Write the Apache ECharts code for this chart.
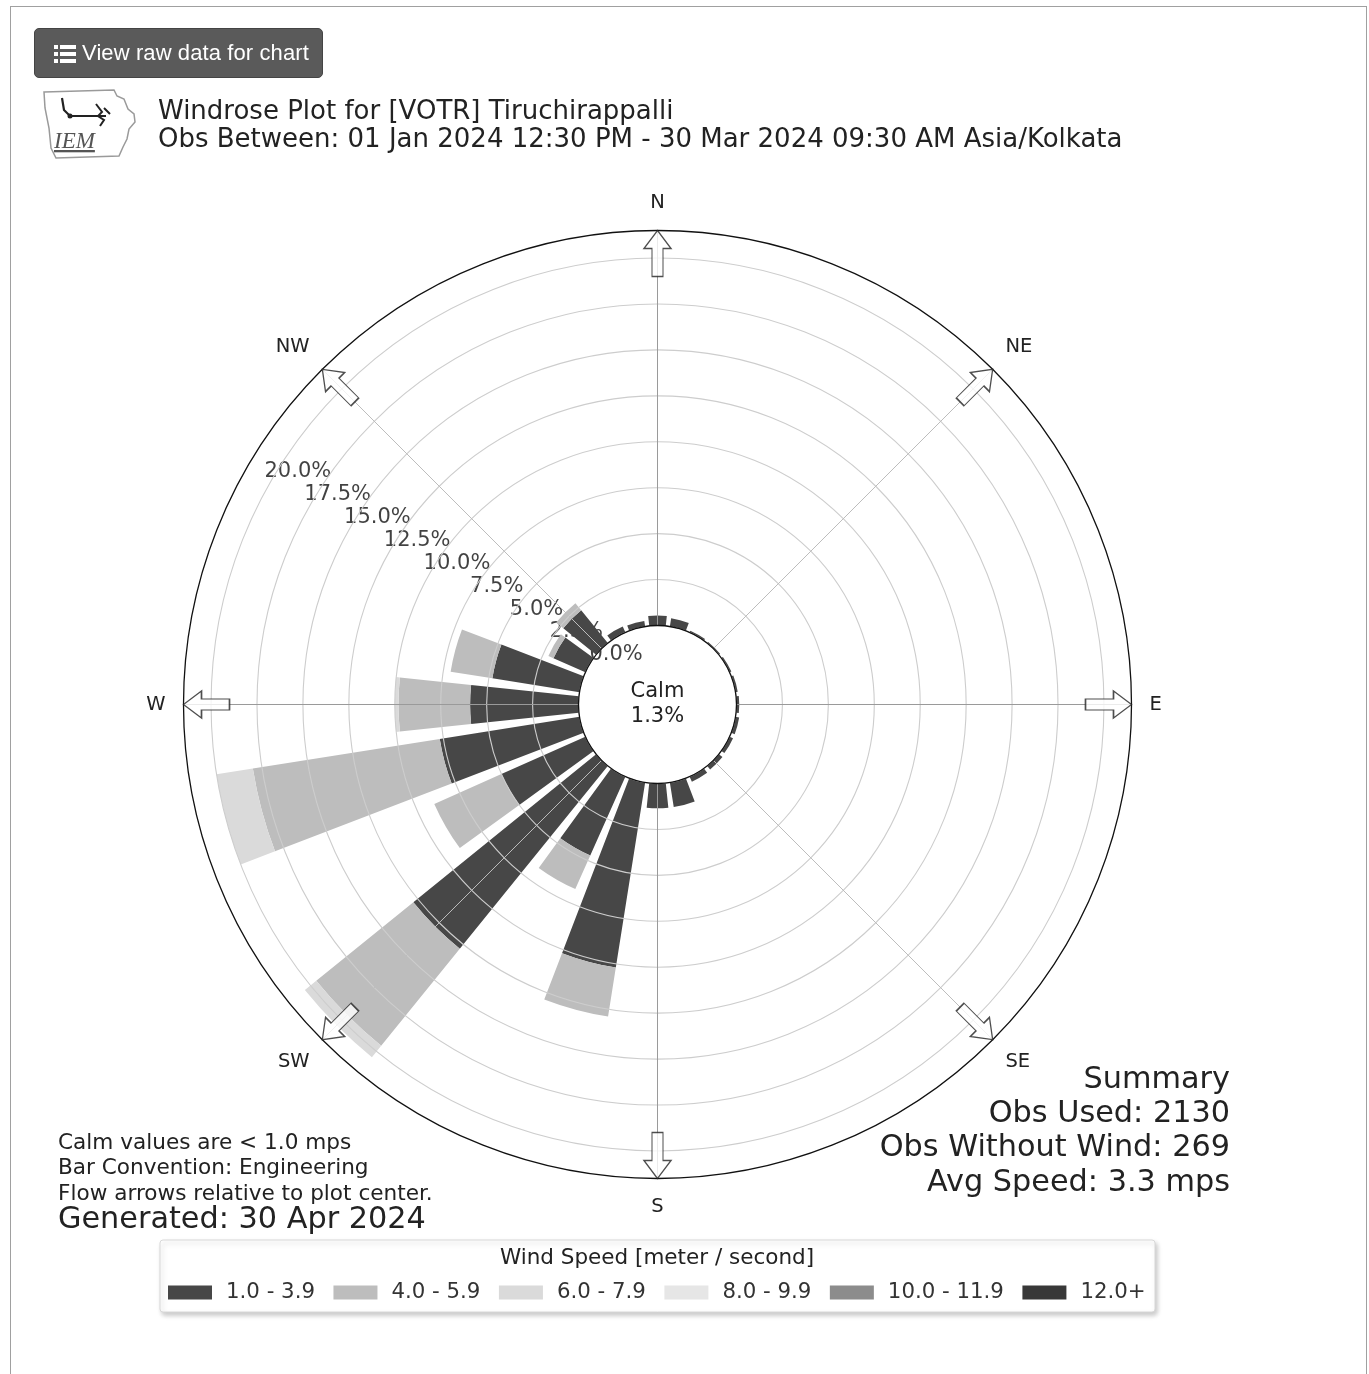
<!DOCTYPE html>
<html><head><meta charset="utf-8">
<script src="https://cdn.jsdelivr.net/npm/echarts@6/dist/echarts.min.js"></script>
<style>
html,body{margin:0;padding:0;background:#fff;overflow:hidden;width:1369px;height:1374px;}
#frame{position:absolute;left:10px;top:6px;width:1355px;height:1400px;border:1px solid #a0a0a0;border-bottom:none;}
#chart{position:absolute;left:0;top:0;width:1369px;height:1374px;}
#btn{position:absolute;left:34px;top:28px;width:289px;height:50px;background:#5a5a5a;border:1px solid #444;border-radius:5px;box-sizing:border-box;color:#fff;font-family:"Liberation Sans",Arial,sans-serif;font-size:22px;line-height:48px;}
#btn .txt{position:absolute;left:47px;top:0;letter-spacing:0.1px;}
#btn .ic{position:absolute;left:19px;width:22px;height:4px;}
#btn .ic i{position:absolute;left:0;top:0;width:4px;height:4px;background:#fff;}
#btn .ic b{position:absolute;left:6px;top:0;width:16px;height:4px;background:#fff;}
#logo{position:absolute;left:40px;top:86px;}
</style></head>
<body>
<div id="frame"></div>
<div id="chart"></div>
<div id="btn"><span class="ic" style="top:16px"><i></i><b></b></span><span class="ic" style="top:23px"><i></i><b></b></span><span class="ic" style="top:30px"><i></i><b></b></span><span class="txt">View raw data for chart</span></div>
<svg id="logo" width="100" height="76" viewBox="0 0 100 76">
  <path d="M4,6 L74,4 L77,10 L84,13 L88,23 L94,28 L95,36 L89,43 L87,53 L83,61 L79,70 L16,72 L11,62 L9,42 L5,22 Z" fill="#fff" stroke="#9a9a9a" stroke-width="1.5"/>
  <path d="M22,12 L24,24 L30,30 L58,30" fill="none" stroke="#222" stroke-width="2.2"/>
  <path d="M56,18 L62,26 L58,30 L64,34 L60,40 M64,22 L70,28 M58,30 L66,30" fill="none" stroke="#222" stroke-width="2"/>
  <circle cx="30" cy="30" r="2.5" fill="#222"/>
  <text x="14" y="62" font-family="Liberation Serif,serif" font-style="italic" font-size="23" fill="#555" text-decoration="underline">IEM</text>
</svg>
<script>
// ---- data ----
const directions = ['0','15','30','45','60','75','90','105','120','135','150','165','180','195','210','225','240','255','270','285','300','315','330','345'];
const speedBins = ['1.0 - 3.9','4.0 - 5.9','6.0 - 7.9','8.0 - 9.9','10.0 - 11.9','12.0+'];
const s1 = [0.55,0.45,0.10,0.08,0.10,0.12,0.15,0.20,0.20,0.25,0.30,1.35,1.35,10.2,4.7,12.8,5.0,7.7,5.9,4.8,1.9,2.3,0.35,0.30];
const s2 = [0,0,0,0,0,0,0,0,0,0,0,0,0,2.7,2.0,6.8,4.0,10.3,3.9,2.3,0.3,0.5,0,0];
const s3 = [0,0,0,0,0,0,0,0,0,0,0,0,0,0,0,0.8,0,2.0,0.2,0,0,0,0,0];
const s4 = [0,0,0,0,0,0,0,0,0,0,0,0,0,0,0,0,0,0,0,0,0,0,0,0];
const s5 = [0,0,0,0,0,0,0,0,0,0,0,0,0,0,0,0,0,0,0,0,0,0,0,0];
const s6 = [0,0,0,0,0,0,0,0,0,0,0,0,0,0,0,0,0,0,0,0,0,0,0,0];
const ringTicks = [0,2.5,5,7.5,10,12.5,15,17.5,20];
const compassNames = ['N','NE','E','SE','S','SW','W','NW'];
const arrowDirs = ['0','45','90','135','180','225','270','315'];
const calmPct = '1.3%';
const titleLines = ['Windrose Plot for [VOTR] Tiruchirappalli','Obs Between: 01 Jan 2024 12:30 PM - 30 Mar 2024 09:30 AM Asia/Kolkata'];
const noteLines = ['Calm values are < 1.0 mps','Bar Convention: Engineering','Flow arrows relative to plot center.'];
const generated = 'Generated: 30 Apr 2024';
const summaryLines = ['Summary','Obs Used: 2130','Obs Without Wind: 269','Avg Speed: 3.3 mps'];
const legendTitle = 'Wind Speed [meter / second]';

// ---- styles ----
const segColors = ['#474747','#bdbdbd','#dadada','#e6e6e6','#8c8c8c','#383838'];
const FONT = '"DejaVu Sans", sans-serif';
const CX = 657.5, CY = 704.5, R_IN = 79, R_OUT = 474, RMAX = 21.5, LABEL_DIR = '300';

const chart = echarts.init(document.getElementById('chart'));
const seriesData = [s1,s2,s3,s4,s5,s6];
const barSeries = speedBins.map((name,i)=>({
  type:'bar', coordinateSystem:'polar', polarIndex:0, stack:'ws', name:name,
  data:seriesData[i], barCategoryGap:'20%', itemStyle:{color:segColors[i]}, z:2, silent:true
}));
const arrowR = (R_OUT - 23 - R_IN) / (R_OUT - R_IN) * RMAX;
const ringColors = ringTicks.map(()=> '#cdcdcd').concat(['rgba(0,0,0,0)']);

const gText = (x,y,text,size,align,extra)=>Object.assign({type:'text', x:x, y:y, z:20,
  style:{text:text, fontFamily:FONT, fontSize:size, fill:'#222', align:align||'left', verticalAlign:'middle'}}, extra||{});

const graphics = [
  {type:'rect', z:0, shape:{x:160,y:1240,width:995,height:72,r:3},
   style:{fill:'#fff', stroke:'#d8d8d8', lineWidth:1, shadowBlur:5, shadowColor:'rgba(0,0,0,0.22)', shadowOffsetX:2, shadowOffsetY:3}},
  gText(657, 1258, legendTitle, 21.5, 'center'),
  gText(158, 112, titleLines[0], 26),
  gText(158, 140, titleLines[1], 26),
  gText(58, 1143, noteLines[0], 21.6),
  gText(58, 1168, noteLines[1], 21.6),
  gText(58, 1194, noteLines[2], 21.6),
  gText(58, 1220, generated, 30.3),
  gText(1230, 1080, summaryLines[0], 30.3, 'right'),
  gText(1230, 1114, summaryLines[1], 30.3, 'right'),
  gText(1230, 1148, summaryLines[2], 30.3, 'right'),
  gText(1230, 1183, summaryLines[3], 30.3, 'right'),
  gText(CX, 692, 'Calm', 21, 'center'),
  gText(CX, 717, calmPct, 21, 'center')
];

const option = {
  animation:false,
  polar:[{center:[CX,CY], radius:[R_IN,R_OUT]},{center:[CX,CY], radius:[R_IN,R_OUT]}],
  angleAxis:[
    {polarIndex:0, type:'category', data:directions, startAngle:97.5, clockwise:true, boundaryGap:true,
     axisLine:{show:false}, axisTick:{show:false}, axisLabel:{show:false}, splitLine:{show:false}, splitArea:{show:false}},
    {polarIndex:1, type:'value', min:0, max:360, interval:45, startAngle:90, clockwise:true, z:10,
     axisLine:{show:true, lineStyle:{color:'#111', width:1.3}}, axisTick:{show:false},
     axisLabel:{show:true, margin:18, fontFamily:FONT, fontSize:19.5, color:'#222',
       formatter:(v)=>compassNames[Math.round(v/45)%8]},
     splitLine:{show:true, lineStyle:{color:['#9a9a9a','#bdbdbd'], width:1}}}
  ],
  radiusAxis:[
    {polarIndex:0, type:'value', min:0, max:RMAX, interval:2.5, z:10,
     axisLine:{show:false}, axisTick:{show:false}, axisLabel:{show:false},
     splitLine:{show:true, lineStyle:{color:ringColors, width:1.1}}},
    {polarIndex:1, type:'value', min:0, max:RMAX, show:false, splitLine:{show:false}}
  ],
  legend:{data:speedBins, left:163, top:1277, itemWidth:44, itemHeight:14, itemGap:18.5, icon:'rect',
    selectedMode:false, z:10, textStyle:{fontFamily:FONT, fontSize:21.3, color:'#333', padding:[0,0,0,9]}},
  graphic:graphics,
  series:barSeries.concat([
    {type:'scatter', coordinateSystem:'polar', polarIndex:0, symbolSize:0, silent:true, z:1,
     data:ringTicks.map(v=>[v, LABEL_DIR]),
     label:{show:true, position:'inside', offset:[27,-10], fontFamily:FONT, fontSize:21, color:'#111',
       formatter:(p)=>p.value[0].toFixed(1)+'%'}},
    {type:'scatter', coordinateSystem:'polar', polarIndex:0, silent:true, z:12,
     symbol:'path://M13.5,0 L27,18 L19,18 L19,46 L8,46 L8,18 L0,18 Z', symbolSize:[27,46], symbolKeepAspect:false,
     itemStyle:{color:'#fff', borderColor:'#222', borderWidth:1.3},
     data:arrowDirs.map(d=>({value:[arrowR, d], symbolRotate:-Number(d)}))}
  ])
};
chart.setOption(option);
</script>
</body></html>
